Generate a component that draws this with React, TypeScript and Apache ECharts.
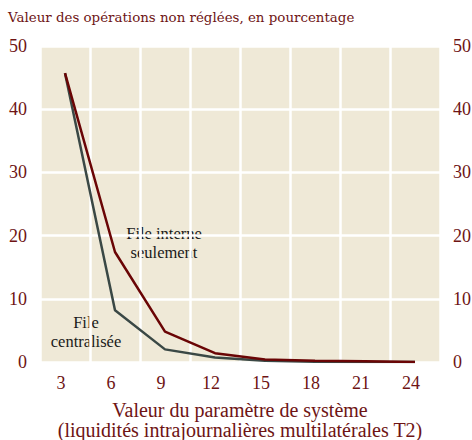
import React, { useEffect, useRef } from "react";
import * as echarts from "echarts";

const categories = ["3", "6", "9", "12", "15", "18", "21", "24"];
const interneSeulement = [45.7, 17.4, 4.8, 1.4, 0.4, 0.2, 0.1, 0.0];
const centralisee = [45.7, 8.2, 2.0, 0.7, 0.2, 0.05, 0.0, 0.0];
const yTicks = [0, 10, 20, 30, 40, 50];

const SERIF = "Liberation Serif";
const WIDE_SERIF = "DejaVu Serif";
const MAROON = "#6e1414";

export default function App() {
  const ref = useRef<HTMLDivElement>(null);
  useEffect(() => {
    if (!ref.current) return;
    const chart = echarts.init(ref.current, undefined, { renderer: "svg" });
    const yAxisCommon = {
      type: "value" as const,
      min: yTicks[0],
      max: yTicks[yTicks.length - 1],
      interval: 10,
      axisLine: { show: false },
      axisTick: { show: false },
      splitLine: { show: true, lineStyle: { color: "#ffffff", width: 2.5 } },
      axisLabel: {
        fontFamily: SERIF,
        fontSize: 18,
        color: MAROON,
        margin: 13,
      },
    };
    chart.setOption({
      animation: false,
      textStyle: { fontFamily: SERIF },
      title: {
        text: "Valeur des opérations non réglées, en pourcentage",
        left: 3,
        top: 6,
        textStyle: {
          fontFamily: WIDE_SERIF,
          fontSize: 13.4,
          fontWeight: "normal",
          color: MAROON,
        },
      },
      grid: {
        left: 40,
        right: 32,
        top: 46,
        bottom: 78,
        show: true,
        backgroundColor: "#efe9d7",
        borderWidth: 0,
        containLabel: false,
        outerBoundsMode: "none",
      },
      xAxis: {
        type: "category",
        data: categories,
        boundaryGap: true,
        axisLine: { show: false },
        axisTick: { show: false },
        splitLine: { show: true, lineStyle: { color: "#ffffff", width: 2.5 } },
        axisLabel: {
          fontFamily: SERIF,
          fontSize: 18,
          color: MAROON,
          margin: 12,
          padding: [0, 8, 0, 0],
        },
        name: "Valeur du paramètre de système\n(liquidités intrajournalières multilatérales T2)",
        nameLocation: "middle",
        nameGap: 38,
        nameTextStyle: {
          fontFamily: SERIF,
          fontSize: 20,
          lineHeight: 20,
          color: MAROON,
        },
      },
      yAxis: [
        { ...yAxisCommon, position: "left" },
        {
          ...yAxisCommon,
          position: "right",
          splitLine: { show: false },
        },
      ],
      series: [
        {
          name: "File centralisée",
          type: "line",
          data: centralisee,
          symbol: "none",
          lineStyle: { color: "#3a4845", width: 2.5 },
          z: 2,
        },
        {
          name: "File interne seulement",
          type: "line",
          data: interneSeulement,
          symbol: "none",
          lineStyle: { color: "#6a0505", width: 2.5 },
          z: 3,
        },
      ],
      graphic: [
        {
          type: "text",
          x: 164,
          y: 224,
          style: {
            text: "File interne\nseulement",
            fontFamily: SERIF,
            fontSize: 16.5,
            lineHeight: 19,
            fill: "#1a1a1a",
            align: "center",
          },
        },
        {
          type: "text",
          x: 86,
          y: 313,
          style: {
            text: "File\ncentralisée",
            fontFamily: SERIF,
            fontSize: 16.5,
            lineHeight: 19,
            fill: "#1a1a1a",
            align: "center",
          },
        },
      ],
    });
    return () => chart.dispose();
  }, []);
  return <div ref={ref} style={{ width: 472, height: 440, position: "absolute", left: 0, top: 0 }} />;
}
